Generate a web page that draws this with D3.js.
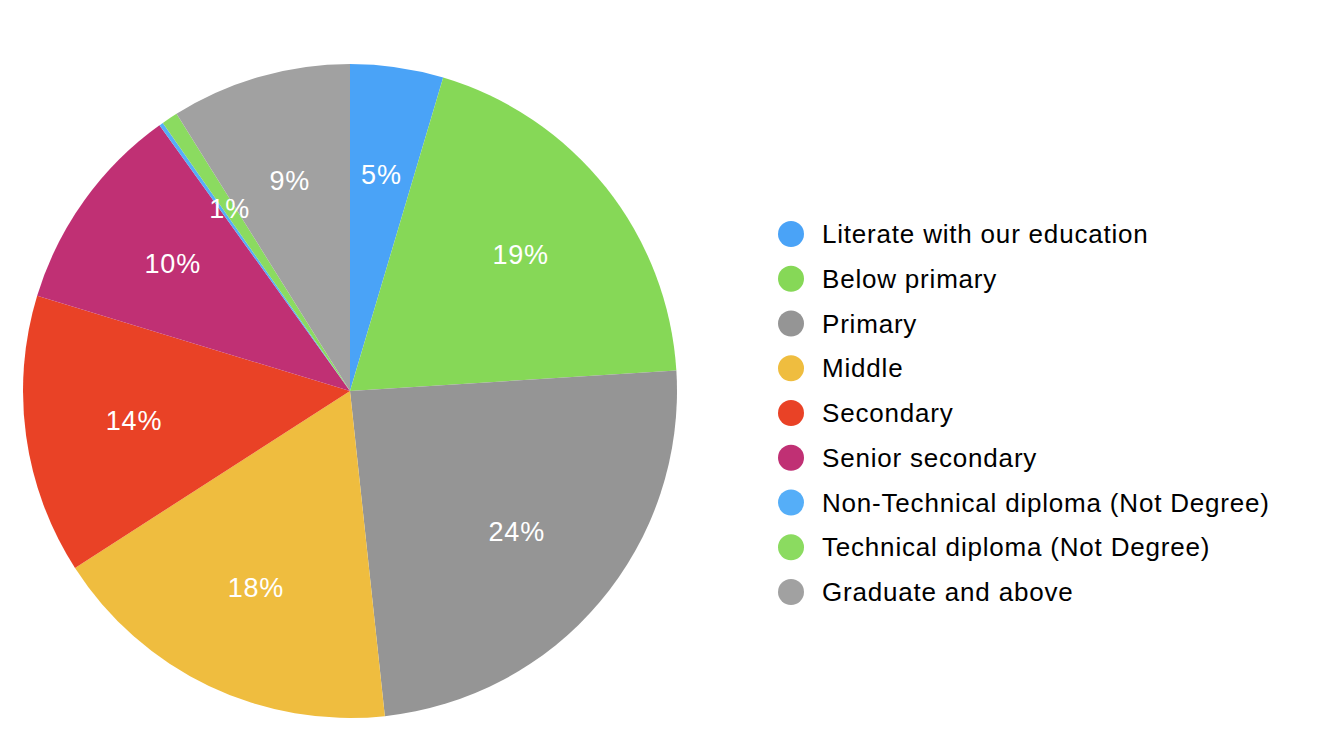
<!DOCTYPE html>
<html><head><meta charset="utf-8">
<script src="https://cdn.jsdelivr.net/npm/d3@7"></script>
<style>html,body{margin:0;padding:0;background:#fff;}svg{display:block;}</style>
</head><body>
<svg id="chart" width="1328" height="736"></svg>
<script>
const categories = ["Literate with our education","Below primary","Primary","Middle","Secondary","Senior secondary","Non-Technical diploma (Not Degree)","Technical diploma (Not Degree)","Graduate and above"];
const values = [4.6, 19.4, 24.3, 17.6, 13.8, 10.4, 0.2, 0.8, 8.9];
const colors = ["#4aa3f7","#86d857","#959595","#efbd3f","#e94226","#c03074","#55aef8","#8bdb60","#a1a1a1"];

const svg = d3.select("#chart");
const cx = 350, cy = 391, R = 327;
const data = categories.map((c,i)=>({name:c, value:values[i], color:colors[i]}));
const total = d3.sum(values);
const pie = d3.pie().sort(null).value(d=>d.value);
const arcs = pie(data);
const arc = d3.arc().innerRadius(0).outerRadius(R);
const labelArc = d3.arc().innerRadius(R*0.667).outerRadius(R*0.667);
const g = svg.append("g").attr("transform",`translate(${cx},${cy})`);
g.selectAll("path").data(arcs).join("path").attr("d",arc).attr("fill",d=>d.data.color);
g.selectAll("text").data(arcs.filter(d=>d.data.value/total>=0.005)).join("text")
  .attr("transform",d=>`translate(${labelArc.centroid(d)})`)
  .attr("text-anchor","middle").attr("dominant-baseline","central")
  .attr("font-family","Liberation Sans, Arial, Helvetica, sans-serif").attr("font-size",27)
  .attr("letter-spacing","0.8px")
  .attr("fill","#fff")
  .text(d=>Math.round(d.data.value/total*100)+"%");

const legendY = d3.scalePoint().domain(categories).range([234,592]);
const lg = svg.append("g");
const items = lg.selectAll("g").data(data).join("g").attr("transform",d=>`translate(791,${legendY(d.name)})`);
items.append("circle").attr("r",13).attr("fill",d=>d.color);
items.append("text").attr("x",31).attr("dominant-baseline","central")
  .attr("font-family","Liberation Sans, Arial, Helvetica, sans-serif").attr("font-size",26)
  .attr("letter-spacing","0.8px")
  .attr("fill","#000").text(d=>d.name);
</script>
</body></html>
